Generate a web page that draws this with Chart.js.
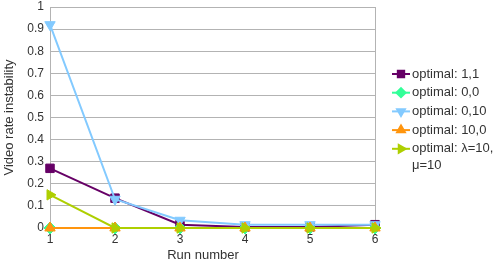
<!DOCTYPE html>
<html>
<head>
<meta charset="utf-8">
<script src="https://cdn.jsdelivr.net/npm/chart.js@4"></script>
<style>
  html, body { margin: 0; padding: 0; background: #fff; }
  #wrap { width: 497px; height: 262px; }
</style>
</head>
<body>
<div id="wrap"><canvas id="chart" width="497" height="262"></canvas></div>
<script>
// data
const runs = ['1', '2', '3', '4', '5', '6'];
const names = ['optimal: 1,1', 'optimal: 0,0', 'optimal: 0,10', 'optimal: 10,0', ['optimal: λ=10,', 'μ=10']];
const opt11 = [0.27, 0.135, 0.015, 0.005, 0.005, 0.015];
const opt00 = [0, 0, 0, 0, 0, 0];
const opt010 = [0.92, 0.13, 0.035, 0.015, 0.015, 0.015];
const opt100 = [0, 0, 0, 0, 0, 0];
const optLM = [0.15, 0, 0, 0, 0, 0];

const colors = ['#660066', '#33ff99', '#83caff', '#ff950e', '#aecf00'];
const styles = ['rect', 'rectRot', 'triangle', 'triangle', 'triangle'];
const rotations = [0, 0, 180, 0, 90];
const series = [opt11, opt00, opt010, opt100, optLM];

const font = "'Liberation Sans', Arial, sans-serif";
const textColor = '#333333';

var datasets = series.map(function (values, i) {
    return {
        label: Array.isArray(names[i]) ? names[i].join(' ') : names[i],
        data: values,
        borderColor: colors[i],
        backgroundColor: colors[i],
        borderWidth: 2,
        pointStyle: styles[i],
        rotation: rotations[i],
        pointRadius: 6,
        pointBorderWidth: 1,
        tension: 0,
        clip: false,
        order: -i   // later series drawn on top, like the original
    };
});

// legend and x title drawn by hand so they sit where the original has them
const extras = {
    id: 'extras',
    afterDraw(chart) {
        var ctx = chart.ctx;
        ctx.save();
        ctx.font = '13px ' + font;
        ctx.fillStyle = textColor;
        ctx.textBaseline = 'middle';
        var y = 74;
        names.forEach(function (name, i) {
            ctx.strokeStyle = colors[i];
            ctx.lineWidth = 2;
            ctx.beginPath();
            ctx.moveTo(392, y);
            ctx.lineTo(410, y);
            ctx.stroke();
            ctx.fillStyle = colors[i];
            Chart.helpers.drawPoint(ctx, {
                pointStyle: styles[i], rotation: rotations[i], radius: 4.5, borderWidth: 1
            }, 401, y);
            ctx.fillStyle = textColor;
            var lines = Array.isArray(name) ? name : [name];
            lines.forEach(function (t, k) {
                ctx.fillText(t, 412, y + k * 17);
            });
            y += 18.7;
        });
        ctx.textAlign = 'center';
        ctx.fillText('Run number', 203, 255);
        ctx.restore();
    }
};

const ctx = document.getElementById('chart').getContext('2d');
const chart = new Chart(ctx, {
    type: 'line',
    data: { labels: runs, datasets: datasets },
    options: {
        responsive: false,
        animation: false,
        layout: { padding: { left: 0, right: 122, top: 5, bottom: 0 } },
        plugins: { legend: { display: false }, tooltip: { enabled: false } },
        scales: {
            x: {
                offset: false,
                grid: {
                    color: function (c) { return (c.index === 0 || c.index === runs.length - 1) ? '#b3b3b3' : 'rgba(0,0,0,0)'; },
                    drawTicks: false
                },
                border: { display: false },
                ticks: { color: textColor, font: { family: font, size: 12 }, padding: 4, maxRotation: 0 },
                afterFit: function (s) { s.height = 34; s.paddingLeft = 0; s.paddingRight = 0; }
            },
            y: {
                min: 0,
                max: 1,
                grid: { color: '#b3b3b3', drawTicks: false },
                border: { color: '#b3b3b3' },
                ticks: {
                    stepSize: 0.1,
                    color: textColor,
                    font: { family: font, size: 12 },
                    padding: 6,
                    callback: function (v) { return Math.round(v * 10) / 10; }
                },
                title: {
                    display: true,
                    text: 'Video rate instability',
                    color: textColor,
                    font: { family: font, size: 13 },
                    padding: { top: 2, bottom: 0 }
                },
                afterFit: function (s) { s.width = 50; s.paddingTop = 0; s.paddingBottom = 0; }
            }
        }
    },
    plugins: [extras]
});
</script>
</body>
</html>
